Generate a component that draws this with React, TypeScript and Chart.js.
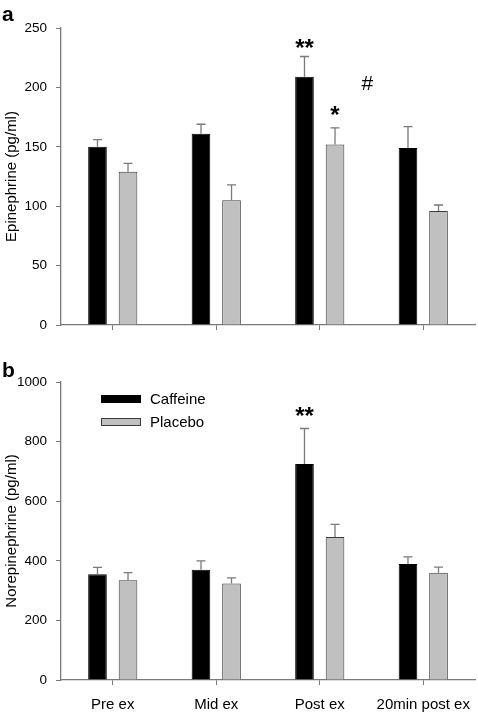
import React, { useEffect, useRef } from 'react';
import { Chart, registerables } from 'chart.js';

Chart.register(...registerables);

// ---------- data ----------
const categories = ['Pre ex', 'Mid ex', 'Post ex', '20min post ex'];
const seriesNames = ['Caffeine', 'Placebo'];

const epiCaffeine = [150, 161, 209, 149];
const epiCaffeineErr = [6, 8, 17, 18];
const epiPlacebo = [129, 105, 152, 96];
const epiPlaceboErr = [7, 13, 14, 5];

const norCaffeine = [355, 370, 725, 389];
const norCaffeineErr = [23, 30, 119, 24];
const norPlacebo = [335, 324, 480, 360];
const norPlaceboErr = [25, 19, 42, 19];

const epiTicks = [0, 50, 100, 150, 200, 250];
const norTicks = [0, 200, 400, 600, 800, 1000];

// significance marks: series index (or -1 for free position), category position, value
const epiMarks = [
  { text: '**', series: 0, category: 2, value: 236 },
  { text: '*', series: 1, category: 2, value: 180 },
  { text: '#', series: -1, category: 2.46, value: 203 },
];
const norMarks = [{ text: '**', series: 0, category: 2, value: 897 }];

// ---------- styling ----------
const FONT = '"Liberation Sans", Arial, Helvetica, sans-serif';
const AXIS_COLOR = '#7a7a7a';
const ERR_COLOR = '#7a7a7a';
const CAF_COLOR = '#000000';
const PLA_COLOR = '#c0c0c0';
const PLA_BORDER = '#3a3a3a';

const errorBarPlugin = {
  id: 'errorBars',
  afterDatasetsDraw(chart: any) {
    const { ctx } = chart;
    const yScale = chart.scales.y;
    chart.data.datasets.forEach((ds: any, di: number) => {
      const meta = chart.getDatasetMeta(di);
      meta.data.forEach((bar: any, i: number) => {
        const v = ds.data[i];
        const e = ds.errors[i];
        const x = bar.x;
        const y0 = bar.y;
        const y1 = yScale.getPixelForValue(v + e);
        ctx.save();
        ctx.strokeStyle = ERR_COLOR;
        ctx.lineWidth = 1.3;
        ctx.beginPath();
        ctx.moveTo(x, y0);
        ctx.lineTo(x, y1);
        ctx.moveTo(x - 4.5, y1);
        ctx.lineTo(x + 4.5, y1);
        ctx.stroke();
        ctx.restore();
      });
    });
  },
};

const marksPlugin = {
  id: 'sigMarks',
  afterDatasetsDraw(chart: any, _args: any, opts: any) {
    const { ctx } = chart;
    const xScale = chart.scales.x;
    const yScale = chart.scales.y;
    ctx.save();
    ctx.fillStyle = '#000';
    ctx.textAlign = 'center';
    ctx.textBaseline = 'middle';
    (opts.marks || []).forEach((m: any) => {
      let x;
      if (m.series >= 0) {
        x = chart.getDatasetMeta(m.series).data[m.category].x;
      } else {
        x = xScale.getPixelForValue(m.category);
      }
      const y = yScale.getPixelForValue(m.value);
      if (m.text === '#') {
        ctx.font = `21px ${FONT}`;
        ctx.fillText(m.text, x, y);
      } else {
        ctx.font = `bold 24px ${FONT}`;
        ctx.fillText(m.text, x, y + 5);
      }
    });
    ctx.restore();
  },
};

const panelLabelPlugin = {
  id: 'panelLabel',
  afterDraw(chart: any, _args: any, opts: any) {
    if (!opts.text) return;
    const { ctx } = chart;
    ctx.save();
    ctx.fillStyle = '#000';
    ctx.font = `bold 21px ${FONT}`;
    ctx.textAlign = 'left';
    ctx.textBaseline = 'alphabetic';
    ctx.fillText(opts.text, opts.x, opts.y);
    ctx.restore();
  },
};

const legendPlugin = {
  id: 'boxLegend',
  afterDraw(chart: any, _args: any, opts: any) {
    if (!opts.show) return;
    const { ctx } = chart;
    ctx.save();
    chart.data.datasets.forEach((ds: any, i: number) => {
      const x = chart.chartArea.left + opts.dx;
      const y = chart.chartArea.top + opts.dy + i * opts.gap;
      ctx.fillStyle = ds.backgroundColor;
      ctx.fillRect(x, y - 4, 40, 8);
      ctx.strokeStyle = ds.borderColor;
      ctx.lineWidth = 1;
      ctx.strokeRect(x + 0.5, y - 3.5, 39, 7);
      ctx.fillStyle = '#000';
      ctx.font = `15px ${FONT}`;
      ctx.textAlign = 'left';
      ctx.textBaseline = 'middle';
      ctx.fillText(ds.label, x + 49, y + 1);
    });
    ctx.restore();
  },
};

function makeConfig(opts: {
  caf: number[];
  cafErr: number[];
  pla: number[];
  plaErr: number[];
  ticks: number[];
  title: string;
  showXLabels: boolean;
  padTop: number;
  xHeight: number;
  marks: any[];
  panel: string;
  panelY: number;
  legend: boolean;
}): any {
  const tickFont = { family: FONT, size: 13.5 };
  return {
    type: 'bar',
    data: {
      labels: categories,
      datasets: [
        {
          label: seriesNames[0],
          data: opts.caf,
          errors: opts.cafErr,
          backgroundColor: CAF_COLOR,
          borderColor: '#000',
          borderWidth: 1,
          categoryPercentage: 0.59,
          barPercentage: 0.61,
        },
        {
          label: seriesNames[1],
          data: opts.pla,
          errors: opts.plaErr,
          backgroundColor: PLA_COLOR,
          borderColor: PLA_BORDER,
          borderWidth: 1,
          categoryPercentage: 0.59,
          barPercentage: 0.61,
        },
      ],
    },
    plugins: [errorBarPlugin, marksPlugin, panelLabelPlugin, legendPlugin],
    options: {
      responsive: false,
      animation: false,
      devicePixelRatio: 1,
      layout: { padding: { top: opts.padTop, right: 3, left: 0, bottom: 0 } },
      plugins: {
        legend: { display: false },
        tooltip: { enabled: false },
        sigMarks: { marks: opts.marks },
        panelLabel: { text: opts.panel, x: 2, y: opts.panelY },
        boxLegend: { show: opts.legend, dx: 40, dy: 17, gap: 23 },
      },
      scales: {
        x: {
          type: 'category',
          offset: true,
          grid: {
            offset: false,
            drawOnChartArea: false,
            drawTicks: true,
            tickLength: 5,
            color: AXIS_COLOR,
            lineWidth: 1,
          },
          border: { display: true, color: AXIS_COLOR, width: 1.3 },
          ticks: {
            display: opts.showXLabels,
            color: '#000',
            font: { family: FONT, size: 15 },
            padding: 11,
            maxRotation: 0,
            autoSkip: false,
          },
          afterFit: (s: any) => {
            s.height = opts.xHeight;
            s.paddingLeft = 0;
            s.paddingRight = 0;
            s.paddingTop = 0;
            s.paddingBottom = 0;
          },
        },
        y: {
          min: opts.ticks[0],
          max: opts.ticks[opts.ticks.length - 1],
          afterBuildTicks: (s: any) => {
            s.ticks = opts.ticks.map((v) => ({ value: v }));
          },
          grid: {
            drawOnChartArea: false,
            drawTicks: true,
            tickLength: 5,
            color: AXIS_COLOR,
            lineWidth: 1,
          },
          border: { display: true, color: AXIS_COLOR, width: 1.3 },
          ticks: {
            color: '#000',
            font: tickFont,
            padding: 9,
            callback: (v: any) => String(v),
          },
          title: {
            display: true,
            text: opts.title,
            color: '#000',
            font: { family: FONT, size: 15 },
            padding: { top: 3, bottom: 0 },
          },
          afterFit: (s: any) => {
            s.width = 61;
            s.paddingTop = 0;
            s.paddingBottom = 0;
          },
        },
      },
    },
  };
}

function ChartCanvas({ config, width, height, top }: any) {
  const ref = useRef<HTMLCanvasElement | null>(null);
  useEffect(() => {
    if (!ref.current) return;
    const chart = new Chart(ref.current, config);
    return () => chart.destroy();
  }, []);
  return (
    <canvas
      ref={ref}
      width={width}
      height={height}
      style={{ position: 'absolute', left: 0, top, width, height, display: 'block' }}
    />
  );
}

export default function App() {
  const topConfig = makeConfig({
    caf: epiCaffeine,
    cafErr: epiCaffeineErr,
    pla: epiPlacebo,
    plaErr: epiPlaceboErr,
    ticks: epiTicks,
    title: 'Epinephrine (pg/ml)',
    showXLabels: false,
    padTop: 28,
    xHeight: 15,
    marks: epiMarks,
    panel: 'a',
    panelY: 21,
    legend: false,
  });
  const bottomConfig = makeConfig({
    caf: norCaffeine,
    cafErr: norCaffeineErr,
    pla: norPlacebo,
    plaErr: norPlaceboErr,
    ticks: norTicks,
    title: 'Norepinephrine (pg/ml)',
    showXLabels: true,
    padTop: 42,
    xHeight: 32,
    marks: norMarks,
    panel: 'b',
    panelY: 36.5,
    legend: true,
  });
  return (
    <div
      style={{
        position: 'absolute',
        left: 0,
        top: 0,
        width: 478,
        height: 712,
        background: '#fff',
        overflow: 'hidden',
      }}
    >
      <ChartCanvas config={topConfig} width={478} height={340} top={0} />
      <ChartCanvas config={bottomConfig} width={478} height={372} top={340} />
    </div>
  );
}
